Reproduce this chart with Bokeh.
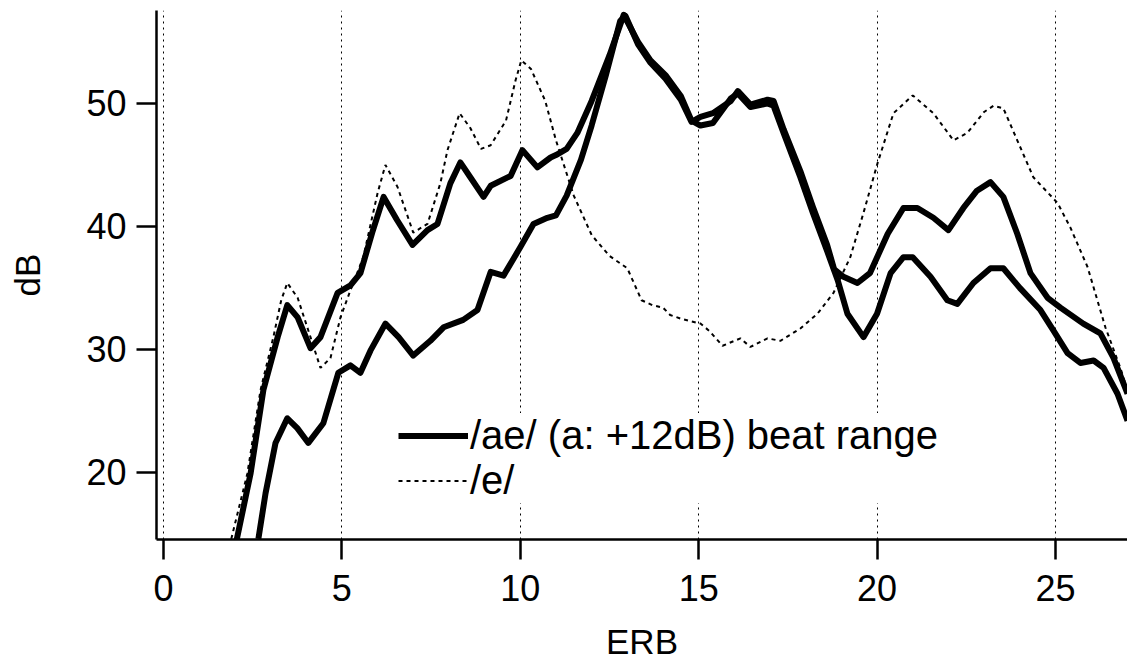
from bokeh.plotting import figure
from bokeh.models import Legend, LegendItem, FixedTicker, Range1d
from bokeh.embed import file_html
from bokeh.resources import INLINE

# ---- data ----
x_ticks = [0, 5, 10, 15, 20, 25]
y_ticks = [20, 30, 40, 50]

# /e/ spectrum (dotted)
e_x = [1.9, 2.35, 2.72, 3.08, 3.3, 3.47, 3.76, 4.12, 4.4, 4.68, 4.96, 5.24, 5.6, 6.0, 6.22,
       6.56, 7.0, 7.4, 7.76, 7.96, 8.3, 8.6, 8.9, 9.17, 9.6, 9.87, 10.03, 10.3, 10.7, 11.0,
       11.5, 12.0, 12.5, 13.0, 13.4, 13.7, 14.0, 14.2, 14.5, 15.05, 15.3, 15.67, 16.17, 16.45,
       16.93, 17.29, 17.85, 18.33, 18.78, 19.25, 19.62, 20.01, 20.46, 21.0, 21.58, 22.14,
       22.53, 23.0, 23.26, 23.54, 23.93, 24.38, 25.06, 25.42, 25.9, 26.4, 26.82, 27.2]
e_y = [14.6, 19.9, 26.7, 31.0, 34.0, 35.4, 34.2, 31.0, 28.5, 29.3, 32.6, 34.8, 37.5, 42.7, 45.0,
       43.2, 39.5, 40.2, 43.5, 46.2, 49.2, 48.0, 46.3, 46.6, 48.6, 51.9, 53.5, 52.8, 50.2, 47.0,
       42.5, 39.3, 37.6, 36.6, 34.0, 33.6, 33.4, 32.8, 32.5, 32.1, 31.5, 30.3, 30.9, 30.2,
       30.9, 30.7, 31.7, 32.9, 34.6, 37.5, 41.1, 45.1, 49.2, 50.65, 49.2, 47.0,
       47.6, 49.3, 49.8, 49.6, 47.0, 44.0, 41.9, 39.9, 36.7, 31.8, 28.5, 25.0]

# /ae/ beat range, bound 1 (upper on the left, lower on the right)
a_x = [2.05, 2.44, 2.8, 3.2, 3.47, 3.76, 4.12, 4.4, 4.88, 5.24, 5.52, 5.85, 6.17, 6.55, 6.98,
       7.4, 7.68, 8.04, 8.32, 8.6, 8.97, 9.17, 9.73, 10.06, 10.48, 10.85, 11.0, 11.3, 11.6,
       12.0, 12.5, 12.9, 13.3, 13.65, 14.07, 14.5, 14.8, 15.05, 15.4, 15.9, 16.1, 16.45,
       16.93, 17.1, 17.38, 17.85, 18.2, 18.6, 18.9, 19.17, 19.62, 20.0, 20.38, 20.74, 21.0,
       21.5, 21.97, 22.25, 22.7, 23.18, 23.54, 24.0, 24.58, 24.95, 25.34, 25.7, 26.07, 26.35,
       26.74, 27.02]
a_y = [14.5, 19.9, 26.7, 31.0, 33.6, 32.6, 30.1, 31.0, 34.6, 35.2, 36.2, 39.5, 42.4, 40.5, 38.5,
       39.7, 40.2, 43.5, 45.2, 44.0, 42.4, 43.3, 44.1, 46.2, 44.8, 45.6, 45.8, 46.3, 47.6,
       50.2, 53.9, 57.2, 55.0, 53.5, 52.3, 50.6, 48.6, 48.2, 48.4, 50.4, 50.8, 49.7,
       50.0, 49.8, 47.6, 44.0, 41.1, 38.0, 35.6, 32.9, 31.0, 32.9, 36.2, 37.5, 37.5,
       35.9, 34.0, 33.7, 35.4, 36.6, 36.6, 35.0, 33.2, 31.5, 29.7, 28.9, 29.1, 28.5,
       26.4, 24.2]

# /ae/ beat range, bound 2 (lower on the left, upper on the right)
b_x = [2.66, 2.86, 3.14, 3.47, 3.75, 4.06, 4.48, 4.9, 5.24, 5.52, 5.8, 6.22, 6.59, 7.0, 7.48,
       7.85, 8.4, 8.8, 9.17, 9.53, 10.0, 10.37, 10.76, 11.0, 11.3, 11.7, 12.0, 12.4, 12.8,
       12.95, 13.3, 13.65, 14.07, 14.5, 14.8, 15.05, 15.4, 15.9, 16.1, 16.45, 16.93, 17.1,
       17.38, 17.85, 18.2, 18.6, 18.8, 19.06, 19.45, 19.8, 20.3, 20.74, 21.13, 21.58, 22.0,
       22.42, 22.8, 23.18, 23.54, 23.93, 24.3, 24.78, 25.14, 25.78, 26.26, 26.63, 27.02]
b_y = [14.6, 18.3, 22.4, 24.4, 23.6, 22.4, 24.0, 28.1, 28.7, 28.1, 29.9, 32.1, 31.0, 29.5, 30.7,
       31.8, 32.4, 33.2, 36.3, 36.0, 38.3, 40.2, 40.7, 40.9, 42.5, 45.4, 48.2, 52.3, 56.7,
       57.1, 54.8, 53.3, 52.0, 50.3, 48.5, 48.9, 49.2, 50.2, 51.0, 49.9, 50.3, 50.2,
       47.9, 44.5, 41.6, 38.5, 36.5, 35.9, 35.4, 36.2, 39.4, 41.5, 41.5, 40.7, 39.7,
       41.5, 42.9, 43.6, 42.4, 39.4, 36.2, 34.2, 33.4, 32.1, 31.3, 29.3, 26.4]

label_ae = "/ae/ (a: +12dB) beat range"
label_e = "/e/"

FONT = "Liberation Sans"

p = figure(width=1127, height=664, output_backend="svg", toolbar_location=None,
           x_range=Range1d(-0.196, 27.02), y_range=Range1d(14.55, 57.55),
           min_border_left=156, min_border_top=10, min_border_bottom=125,
           min_border_right=0)
p.outline_line_color = None
p.background_fill_color = "white"
p.border_fill_color = "white"

p.xaxis.ticker = FixedTicker(ticks=x_ticks)
p.yaxis.ticker = FixedTicker(ticks=y_ticks)
for ax in (p.xaxis, p.yaxis):
    ax.axis_line_width = 2.5
    ax.axis_line_color = "black"
    ax.major_tick_line_width = 2.5
    ax.major_tick_line_color = "black"
    ax.major_tick_out = 20
    ax.major_tick_in = 0
    ax.minor_tick_out = 0
    ax.minor_tick_in = 0
    ax.major_label_text_font = FONT
    ax.major_label_text_font_size = "36px"
    ax.major_label_text_color = "black"
    ax.axis_label_text_font = FONT
    ax.axis_label_text_font_size = "35px"
    ax.axis_label_text_font_style = "normal"
    ax.axis_label_text_color = "black"
p.xaxis.axis_label = "ERB"
p.yaxis.axis_label = "dB"
p.xaxis.major_label_standoff = 15
p.yaxis.major_label_standoff = 10
p.xaxis.axis_label_standoff = 18
p.yaxis.axis_label_standoff = 36

p.xgrid.ticker = FixedTicker(ticks=x_ticks)
p.xgrid.grid_line_color = "black"
p.xgrid.grid_line_width = 1
p.xgrid.grid_line_dash = "2 4"
p.ygrid.grid_line_color = None

r_e = p.line(e_x, e_y, line_color="black", line_width=2, line_dash="4 4")
r_a = p.line(a_x, a_y, line_color="black", line_width=6, line_join="round")
r_b = p.line(b_x, b_y, line_color="black", line_width=6, line_join="round")

legend = Legend(items=[LegendItem(label=label_ae, renderers=[r_a]),
                       LegendItem(label=label_e, renderers=[r_e])],
                location=(242, 36))
legend.padding = 0
legend.margin = 0
legend.spacing = 0
legend.glyph_width = 70
legend.glyph_height = 41
legend.label_height = 41
legend.label_standoff = 2
legend.label_text_font = FONT
legend.label_text_font_size = "40px"
legend.label_text_color = "black"
legend.border_line_color = None
legend.background_fill_color = "white"
legend.background_fill_alpha = 1.0
p.add_layout(legend)

open("out.html", "w").write(file_html(p, INLINE))
